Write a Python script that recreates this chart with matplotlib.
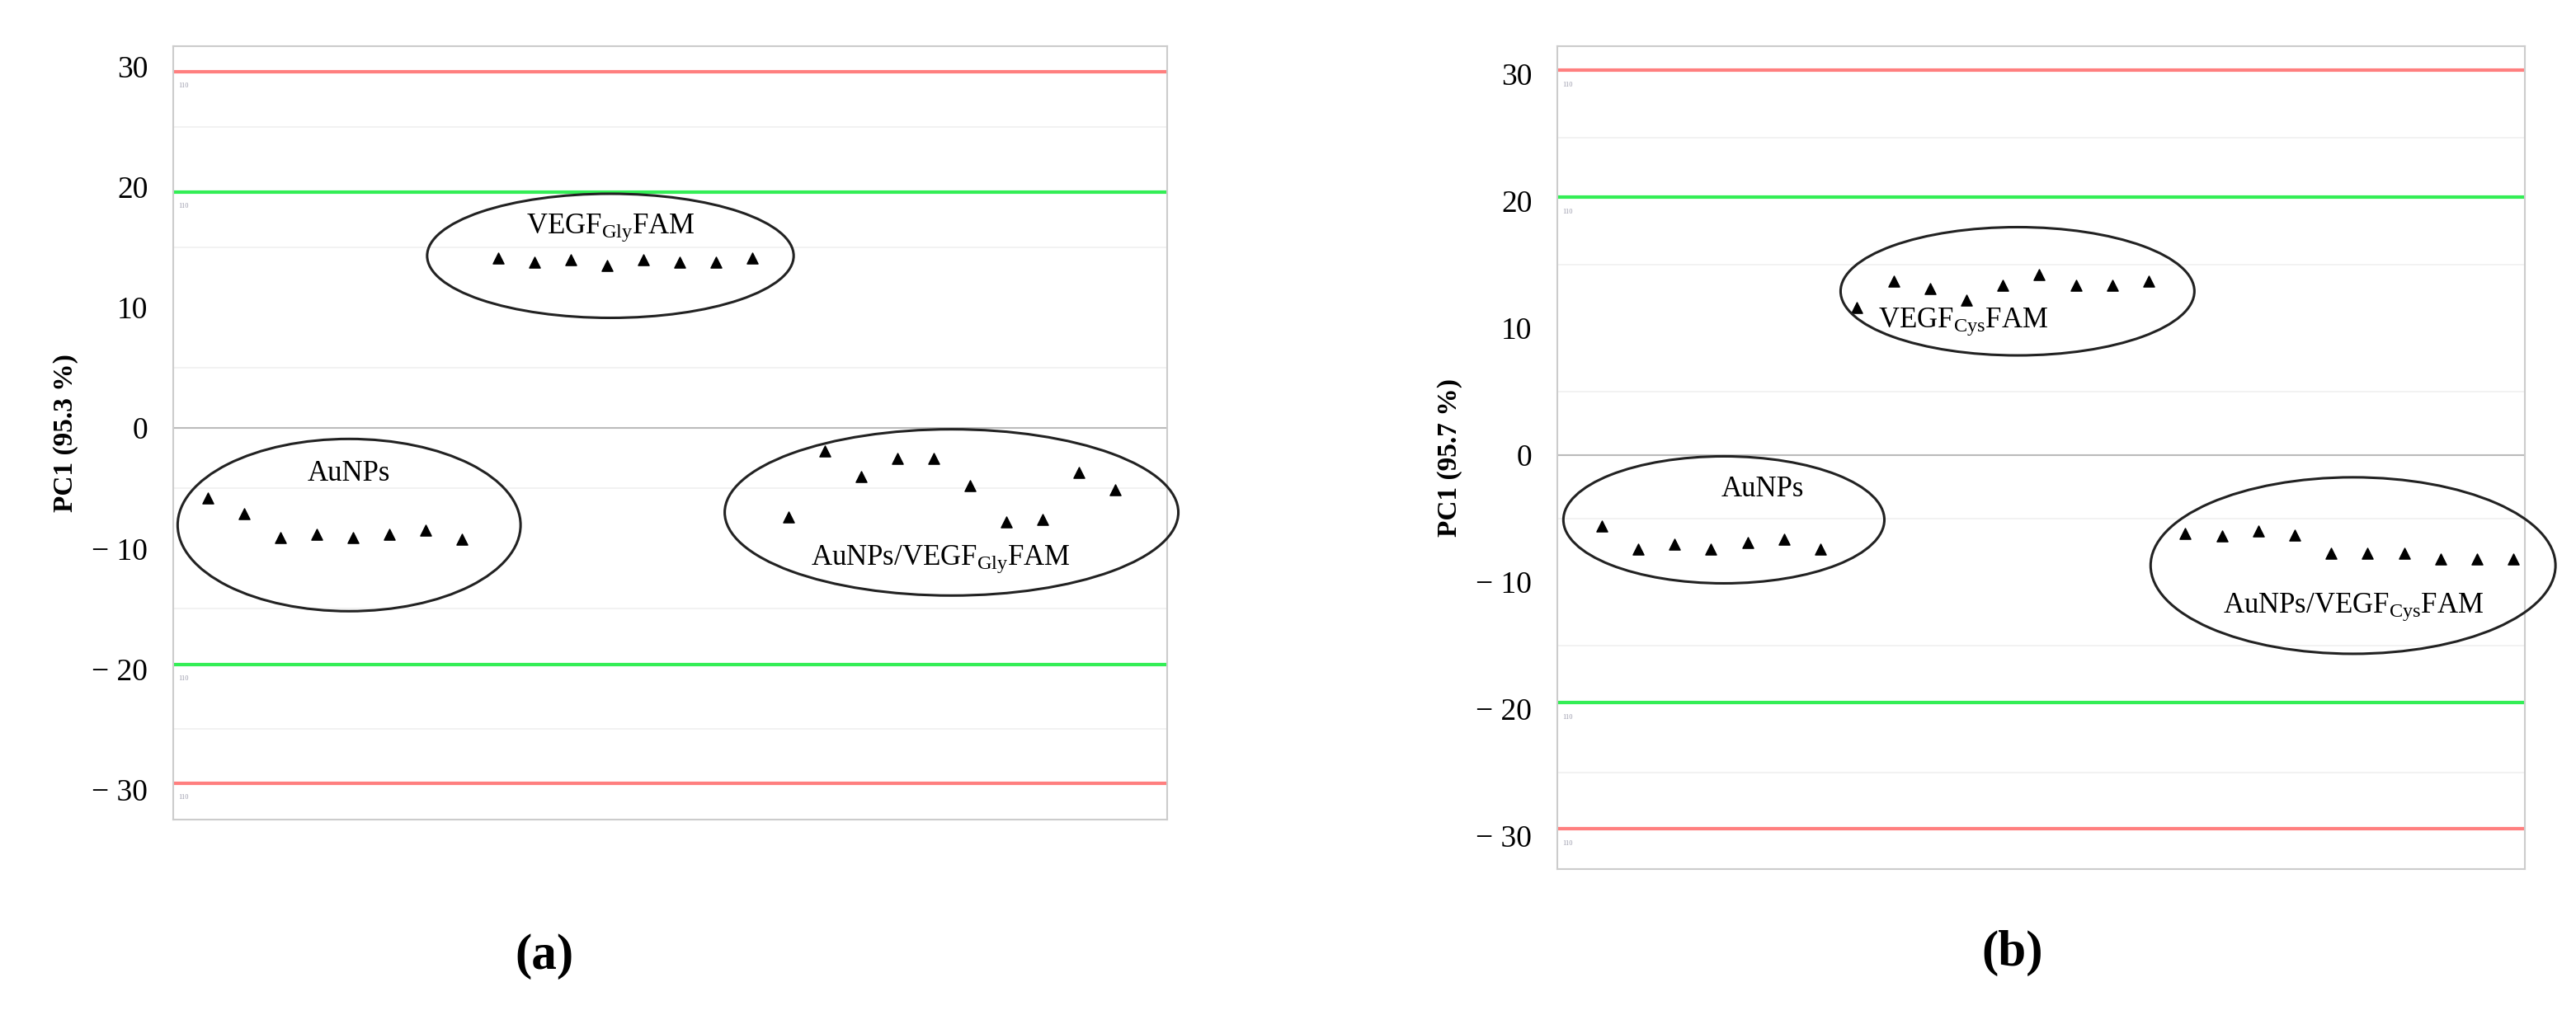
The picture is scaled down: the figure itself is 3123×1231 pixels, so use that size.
import matplotlib
matplotlib.use('Agg')
import matplotlib.pyplot as plt
from matplotlib.patches import Ellipse

plt.rcParams['font.family'] = ['Liberation Serif', 'DejaVu Serif']
plt.rcParams['mathtext.fontset'] = 'custom'
plt.rcParams['mathtext.rm'] = 'Liberation Serif'
plt.rcParams['mathtext.it'] = 'Liberation Serif'

# panel (a): Gly
a_aunp_y = [-5.8, -7.1, -9.1, -8.8, -9.1, -8.8, -8.5, -9.2]
a_vegf_y = [14.1, 13.8, 14.0, 13.5, 14.0, 13.8, 13.8, 14.1]
a_mix_y = [-7.4, -1.9, -4.0, -2.5, -2.5, -4.8, -7.8, -7.6, -3.7, -5.1]
a_limits = [29.6, 19.6, -19.6, -29.5]

# panel (b): Cys
b_aunp_y = [-5.6, -7.4, -7.0, -7.4, -6.9, -6.6, -7.4]
b_vegf_y = [11.6, 13.7, 13.1, 12.2, 13.4, 14.2, 13.4, 13.4, 13.7]
b_mix_y = [-6.2, -6.4, -6.0, -6.3, -7.7, -7.7, -7.7, -8.2, -8.2, -8.2]
b_limits = [30.3, 20.3, -19.5, -29.4]

yticks = [30, 20, 10, 0, -10, -20, -30]
ytick_labels = ['30', '20', '10', '0', '\u2212 10', '\u2212 20', '\u2212 30']

fig = plt.figure(figsize=(31.23, 12.31), dpi=100)
ax_a = fig.add_axes([0.0672, 0.1925, 0.386, 0.762])
ax_b = fig.add_axes([0.6045, 0.1438, 0.3755, 0.8107])


def draw_panel(ax, groups, limits, ylim, xlim, ellipses, labels, ylabel):
    x0 = 1
    for ys in groups:
        xs = list(range(x0, x0 + len(ys)))
        ax.scatter(xs, ys, marker='^', s=90, color='black', zorder=3)
        x0 += len(ys)
    cols = ['#ff7f7f', '#33ee55', '#33ee55', '#ff7f7f']
    for lim, c in zip(limits, cols):
        ax.axhline(lim, color=c, linewidth=3, zorder=2)
        ax.text(xlim[0] + 0.15, lim - 1.3, '110', fontsize=6, color='#9999aa')
    for g in [25, 15, 5, -5, -15, -25]:
        ax.axhline(g, color='#f0f0f0', linewidth=1.2, zorder=1)
    ax.axhline(0, color='#bbbbbb', linewidth=1.5, zorder=1)
    for (cx, cy, w, h) in ellipses:
        ax.add_patch(Ellipse((cx, cy), w, h, fill=False, edgecolor='#222222',
                             linewidth=2.2, zorder=4, clip_on=False))
    for (tx, ty, t) in labels:
        ax.text(tx, ty, t, fontsize=25, ha='center', va='center', zorder=5)
    ax.set_xlim(*xlim)
    ax.set_ylim(*ylim)
    ax.set_xticks([])
    ax.set_yticks(yticks)
    ax.set_yticklabels(ytick_labels, fontsize=27)
    ax.tick_params(axis='y', length=0, pad=22)
    for s in ax.spines.values():
        s.set_color('#cccccc')
        s.set_linewidth(1.5)
    ax.set_ylabel(ylabel, fontsize=24, fontweight='bold', labelpad=12)


draw_panel(ax_a, [a_aunp_y, a_vegf_y, a_mix_y], a_limits, (-32.5, 31.7), (0.05, 27.45),
           [(4.9, -8.05, 9.45, 14.3), (12.1, 14.3, 10.1, 10.3), (21.5, -7.0, 12.5, 13.8)],
           [(4.9, -3.8, 'AuNPs'), (12.1, 16.6, r'VEGF$_{\mathrm{Gly}}$FAM'),
            (21.2, -10.9, r'AuNPs/VEGF$_{\mathrm{Gly}}$FAM')],
           'PC1 (95.3 %)')
draw_panel(ax_b, [b_aunp_y, b_vegf_y, b_mix_y], b_limits, (-32.6, 32.2), (-0.22, 26.3),
           [(4.35, -5.1, 8.8, 10.0), (12.4, 12.9, 9.7, 10.1), (21.6, -8.7, 11.1, 13.9)],
           [(5.4, -2.7, 'AuNPs'), (10.9, 10.5, r'VEGF$_{\mathrm{Cys}}$FAM'),
            (21.6, -12.0, r'AuNPs/VEGF$_{\mathrm{Cys}}$FAM')],
           'PC1 (95.7 %)')

fig.text(660 / 3123, 1 - 1160 / 1231, '(a)', fontsize=44, fontweight='bold',
         ha='center', va='center')
fig.text(2440 / 3123, 1 - 1156 / 1231, '(b)', fontsize=44, fontweight='bold',
         ha='center', va='center')

fig.savefig('out.png', dpi=100)
